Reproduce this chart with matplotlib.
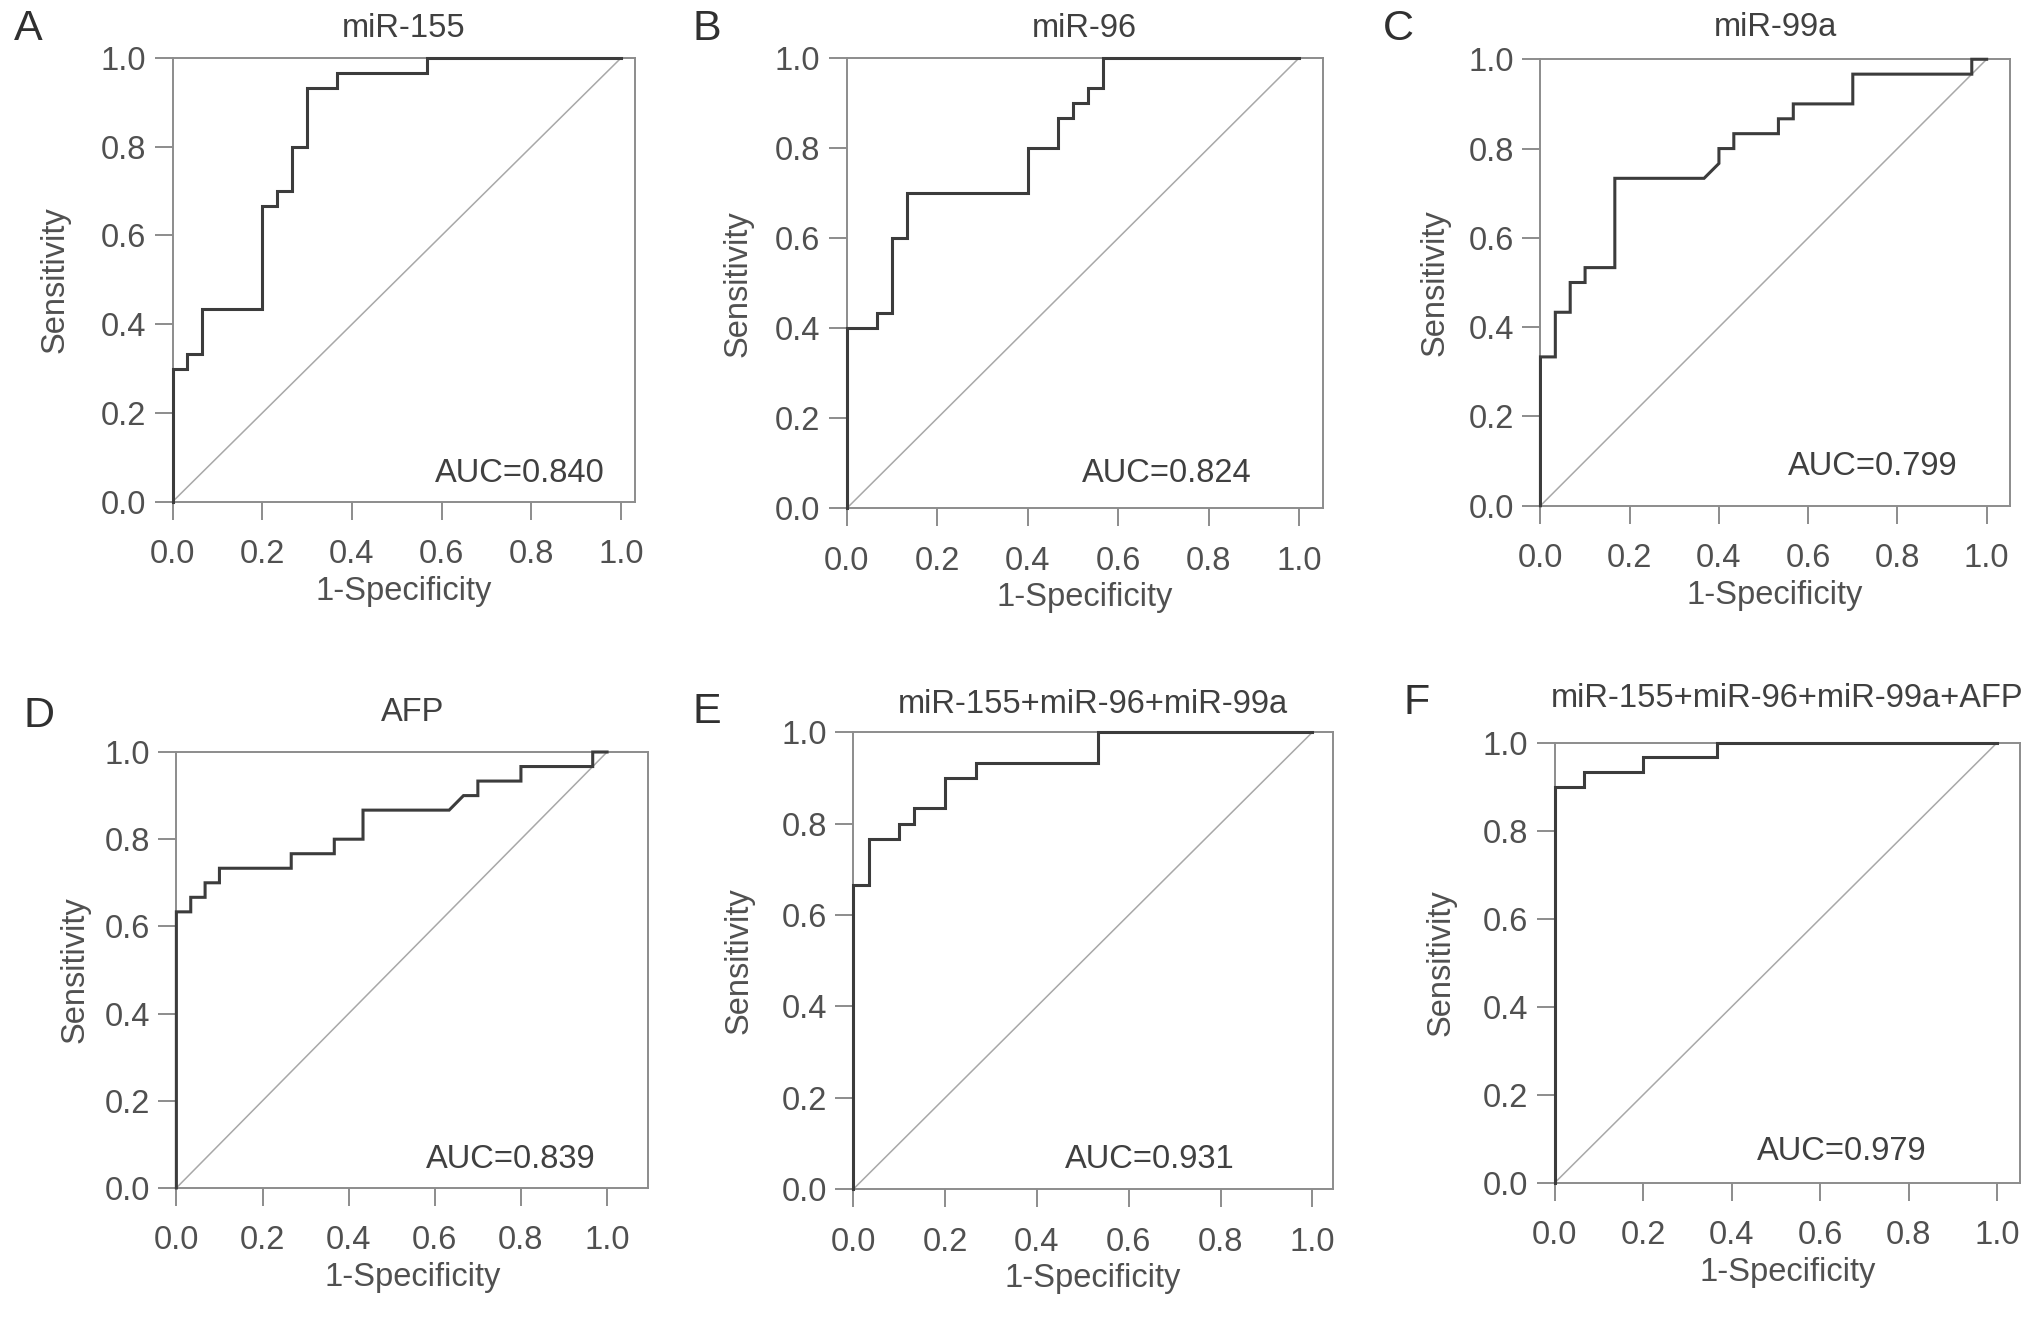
import numpy as np
import matplotlib
matplotlib.use("Agg")
import matplotlib.pyplot as plt

plt.rcParams['font.family'] = ['Liberation Sans', 'DejaVu Sans']

# ROC vertices, counted in cases (30 positives, 30 negatives)
n_cases = 30
titles = ['miR-155', 'miR-96', 'miR-99a', 'AFP',
          'miR-155+miR-96+miR-99a', 'miR-155+miR-96+miR-99a+AFP']
letters = ['A', 'B', 'C', 'D', 'E', 'F']
auc_values = [0.840, 0.824, 0.799, 0.839, 0.931, 0.979]

fp_155 = [0, 0, 1, 1, 2, 2, 6, 6, 7, 7, 8, 8, 9, 9, 11, 11, 17, 17, 30]
tp_155 = [0, 9, 9, 10, 10, 13, 13, 20, 20, 21, 21, 24, 24, 28, 28, 29, 29, 30, 30]

fp_96 = [0, 0, 2, 2, 3, 3, 4, 4, 12, 12, 14, 14, 15, 15, 16, 16, 17, 17, 30]
tp_96 = [0, 12, 12, 13, 13, 18, 18, 21, 21, 24, 24, 26, 26, 27, 27, 28, 28, 30, 30]

fp_99a = [0, 0, 1, 1, 2, 2, 3, 3, 5, 5, 11, 12, 12, 13, 13, 16, 16, 17, 17, 21, 21, 29, 29, 30]
tp_99a = [0, 10, 10, 13, 13, 15, 15, 16, 16, 22, 22, 23, 24, 24, 25, 25, 26, 26, 27, 27, 29, 29, 30, 30]

fp_afp = [0, 0, 1, 1, 2, 2, 3, 3, 8, 8, 11, 11, 13, 13, 19, 20, 21, 21, 24, 24, 29, 29, 30]
tp_afp = [0, 19, 19, 20, 20, 21, 21, 22, 22, 23, 23, 24, 24, 26, 26, 27, 27, 28, 28, 29, 29, 30, 30]

fp_mir3 = [0, 0, 1, 1, 3, 3, 4, 4, 6, 6, 8, 8, 16, 16, 30]
tp_mir3 = [0, 20, 20, 23, 23, 24, 24, 25, 25, 27, 27, 28, 28, 30, 30]

fp_all = [0, 0, 2, 2, 6, 6, 11, 11, 30]
tp_all = [0, 27, 27, 28, 28, 29, 29, 30, 30]

curves = [(fp_155, tp_155), (fp_96, tp_96), (fp_99a, tp_99a),
          (fp_afp, tp_afp), (fp_mir3, tp_mir3), (fp_all, tp_all)]

# layout (figure fractions) and small per-panel tweaks
axes_rects = [[0.0849, 0.619, 0.2278, 0.337],
              [0.4167, 0.614, 0.2342, 0.342],
              [0.7581, 0.616, 0.2310, 0.339],
              [0.0868, 0.098, 0.2323, 0.331],
              [0.4199, 0.097, 0.2361, 0.347],
              [0.7652, 0.102, 0.2291, 0.334]]
x_right = [1.032, 1.052, 1.052, 1.096, 1.045, 1.053]
title_pads = [15, 15, 17, 22, 14, 26]
ylabel_pads = [22, 15, 13, 10, 19, 19]
auc_pos = [(0.775, 0.064), (0.708, 0.077), (0.744, 0.087),
           (0.777, 0.065), (0.647, 0.065), (0.648, 0.070)]
letter_pos = [(0.014, 0.978), (0.348, 0.978), (0.688, 0.978),
              (0.019, 0.456), (0.348, 0.459), (0.697, 0.466)]

text_col = '#505050'
box_col = '#8c8c8c'
fs = 23.5

fig = plt.figure(figsize=(20.32, 13.17), dpi=100)

for i in range(6):
    ax = fig.add_axes(axes_rects[i])
    fp, tp = curves[i]
    fpr = np.array(fp) / n_cases
    tpr = np.array(tp) / n_cases
    ax.plot([0, 1], [0, 1], color='#a8a8a8', lw=1.1, zorder=2)
    ax.plot(fpr, tpr, color='#3c3c3c', lw=2.2, zorder=3, clip_on=False,
            solid_joinstyle='miter')
    ax.set_xlim(0, x_right[i])
    ax.set_ylim(0, 1)
    ticks = np.arange(0, 1.01, 0.2)
    ax.set_xticks(ticks)
    ax.set_yticks(ticks)
    ax.set_xticklabels([f'{t:.1f}' for t in ticks])
    ax.set_yticklabels([f'{t:.1f}' for t in ticks])
    for sp in ax.spines.values():
        sp.set_color(box_col)
        sp.set_linewidth(1.4)
    ax.tick_params(direction='out', length=13, width=1.4, color=box_col,
                   labelsize=fs, labelcolor=text_col, pad=6)
    ax.tick_params(axis='x', pad=14)
    ax.set_xlabel('1-Specificity', fontsize=fs, color=text_col, labelpad=4)
    ax.set_ylabel('Sensitivity', fontsize=fs, color=text_col,
                  labelpad=ylabel_pads[i])
    ax.set_title(titles[i], fontsize=fs, color='#404040', pad=title_pads[i])
    ax.text(auc_pos[i][0], auc_pos[i][1], f'AUC={auc_values[i]:.3f}',
            fontsize=fs, color='#404040', ha='center', va='center')
    fig.text(letter_pos[i][0], letter_pos[i][1], letters[i], fontsize=31,
             color='#303030', ha='center', va='center')

fig.savefig('out.png', dpi=100, facecolor='white')
